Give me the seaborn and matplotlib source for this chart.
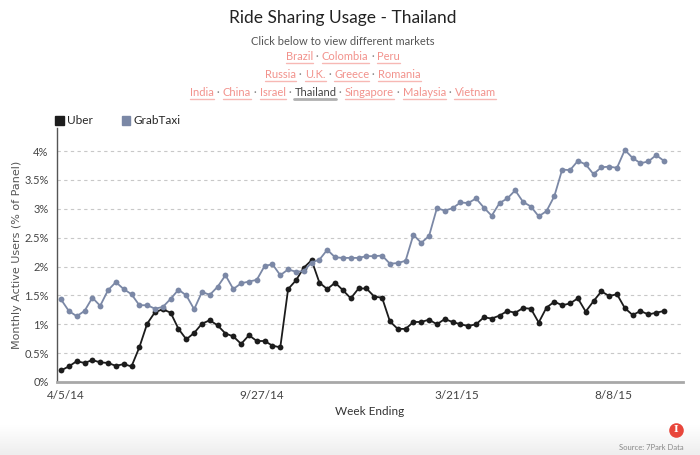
import matplotlib
matplotlib.use("Agg")
import matplotlib.pyplot as plt
import pandas as pd
import seaborn as sns
import numpy as np
from matplotlib.lines import Line2D
from matplotlib.colors import LinearSegmentedColormap
from matplotlib.patches import Rectangle

# weekly monthly-active-user share, % of panel
first_week = "2014-04-01"
uber = [0.20, 0.27, 0.36, 0.33, 0.38, 0.34, 0.33, 0.28, 0.31, 0.27,
        0.60, 1.01, 1.21, 1.26, 1.20, 0.92, 0.74, 0.85, 1.01, 1.07,
        0.98, 0.84, 0.79, 0.66, 0.81, 0.71, 0.71, 0.63, 0.60, 1.61,
        1.76, 1.98, 2.11, 1.72, 1.61, 1.72, 1.59, 1.45, 1.62, 1.62,
        1.48, 1.46, 1.05, 0.92, 0.92, 1.04, 1.04, 1.08, 1.00, 1.09,
        1.04, 1.00, 0.97, 1.00, 1.12, 1.10, 1.15, 1.23, 1.20, 1.28,
        1.27, 1.03, 1.29, 1.39, 1.33, 1.36, 1.45, 1.22, 1.40, 1.57,
        1.49, 1.52, 1.28, 1.16, 1.23, 1.17, 1.20, 1.23]
grabtaxi = [1.43, 1.23, 1.14, 1.23, 1.46, 1.32, 1.59, 1.73, 1.61, 1.52,
            1.33, 1.33, 1.27, 1.30, 1.44, 1.60, 1.50, 1.26, 1.56, 1.51,
            1.65, 1.85, 1.61, 1.71, 1.74, 1.77, 2.01, 2.04, 1.85, 1.95,
            1.91, 1.92, 2.07, 2.12, 2.29, 2.16, 2.15, 2.15, 2.15, 2.18,
            2.18, 2.19, 2.05, 2.06, 2.10, 2.55, 2.41, 2.53, 3.01, 2.97,
            3.01, 3.11, 3.10, 3.18, 3.02, 2.88, 3.10, 3.18, 3.32, 3.12,
            3.04, 2.87, 2.96, 3.22, 3.68, 3.67, 3.83, 3.77, 3.60, 3.72,
            3.73, 3.71, 4.02, 3.88, 3.79, 3.82, 3.93, 3.83]

tick_dates = ["2014-04-05", "2014-09-27", "2015-03-21", "2015-08-08"]
tick_labels = ["4/5/14", "9/27/14", "3/21/15", "8/8/15"]
y_ticks = [0, 0.5, 1, 1.5, 2, 2.5, 3, 3.5, 4]
y_labels = ["0%", "0.5%", "1%", "1.5%", "2%", "2.5%", "3%", "3.5%", "4%"]

market_rows = [["Brazil", "Colombia", "Peru"],
               ["Russia", "U.K.", "Greece", "Romania"],
               ["India", "China", "Israel", "Thailand", "Singapore", "Malaysia", "Vietnam"]]
current_market = "Thailand"

colors = {"Uber": "#1c1c1c", "GrabTaxi": "#7b88a6"}

weeks = pd.date_range(first_week, periods=len(uber), freq="7D")
df = pd.DataFrame({"week": weeks, "Uber": uber, "GrabTaxi": grabtaxi})
df = df.melt(id_vars="week", var_name="app", value_name="share")

sns.set_style("white")
plt.rcParams["font.family"] = ["Lato", "DejaVu Sans"]

W, H = 700, 455
fig = plt.figure(figsize=(W / 100, H / 100), dpi=100)

# faint grey fade at the bottom
fade = LinearSegmentedColormap.from_list("fade", ["#ffffff", "#eeeeee"])
band = fig.add_axes([0, 0, 1, 30 / H], zorder=-5)
band.imshow(np.linspace(0, 1, 50).reshape(-1, 1), cmap=fade,
            aspect="auto", extent=[0, 1, 0, 1])
band.set_axis_off()

ax = fig.add_axes([57 / W, 1 - 382 / H, (683 - 57) / W, (382 - 128) / H])
sns.lineplot(data=df, x="week", y="share", hue="app", palette=colors,
             marker="o", markersize=4.2, markeredgewidth=0, linewidth=1.3,
             ax=ax, legend=False)

ax.set_xlim(weeks[0] - pd.Timedelta(days=3.6), weeks[-1] + pd.Timedelta(days=17))
ax.set_ylim(0, 4.4)
ax.set_yticks(y_ticks)
ax.set_yticklabels(y_labels)
ax.set_xticks(pd.to_datetime(tick_dates))
ax.set_xticklabels(tick_labels)
ax.yaxis.grid(True, linestyle=(0, (3, 3)), color="#c8c8c8", linewidth=0.8)
ax.xaxis.grid(False)
for side in ["top", "right"]:
    ax.spines[side].set_visible(False)
ax.spines["left"].set_color("#555555")
ax.spines["left"].set_linewidth(1.0)
ax.spines["bottom"].set_color("#a8a8a8")
ax.spines["bottom"].set_linewidth(2.0)
ax.tick_params(axis="y", length=4, width=0.8, color="#555555", labelsize=8, labelcolor="#444444", pad=2)
ax.tick_params(axis="x", length=5, width=0.8, color="#666666", labelsize=8.5, labelcolor="#444444", pad=1)

ax.set_xlabel("Week Ending", fontsize=8.5, color="#333333")
ax.xaxis.set_label_coords(0.5, -0.095)
ax.set_ylabel("Monthly Active Users (% of Panel)", fontsize=8, color="#555555", family=["DejaVu Sans"])
ax.yaxis.set_label_coords(-0.056, 0.5)

# legend with square swatches
handles = [Rectangle((0, 0), 1, 1, color=colors[k]) for k in ["Uber", "GrabTaxi"]]
ax.legend(handles, ["Uber", "GrabTaxi"], loc="center left",
          bbox_to_anchor=(55 / W, 1 - 121 / H), bbox_transform=fig.transFigure,
          ncol=2, frameon=False, fontsize=8.5, handlelength=0.75, handleheight=0.75,
          handletextpad=0.3, columnspacing=2.4, borderpad=0, borderaxespad=0)

# header texts
fig.text(343 / W, 1 - 18 / H, "Ride Sharing Usage - Thailand", ha="center", va="center",
         fontsize=12.5, color="#222222")
fig.text(343 / W, 1 - 41.5 / H, "Click below to view different markets", ha="center", va="center",
         fontsize=8, color="#555555")

renderer = fig.canvas.get_renderer()
link_color = "#f2928c"
row_y = [57.5, 75.5, 93.5]
for names, y in zip(market_rows, row_y):
    pieces = []
    for i, name in enumerate(names):
        if i > 0:
            pieces.append((" · ", "#888888", None))
        if name == current_market:
            pieces.append((name, "#444444", "#b0b0b0"))
        else:
            pieces.append((name, link_color, "#f7b8b4"))
    texts = [fig.text(0, 1 - y / H, s, ha="left", va="baseline", fontsize=8, color=c)
             for s, c, _ in pieces]
    widths = [t.get_window_extent(renderer).width for t in texts]
    x = 343 - sum(widths) / 2
    base = H - y - 3
    for t, w, (s, c, u) in zip(texts, widths, pieces):
        t.set_position((x / W, base / H))
        if u is not None:
            lw = 2.0 if s == current_market else 1.0
            fig.add_artist(Line2D([x / W, (x + w) / W], [(base - 2) / H, (base - 2) / H],
                                  color=u, linewidth=lw, transform=fig.transFigure))
        x += w

# 7Park badge and source note
fig.add_artist(Line2D([676 / W], [1 - 430 / H], marker="o", markersize=10.5, color="#e8463b",
                      markeredgewidth=0, transform=fig.transFigure))
fig.text(676 / W, 1 - 430 / H, "I", ha="center", va="center", fontsize=7, color="white",
         fontweight="bold", family=["DejaVu Serif"])
fig.text(684 / W, 1 - 447 / H, "Source: 7Park Data", ha="right", va="center",
         fontsize=5.5, color="#888888")

fig.savefig("out.png", dpi=100)
